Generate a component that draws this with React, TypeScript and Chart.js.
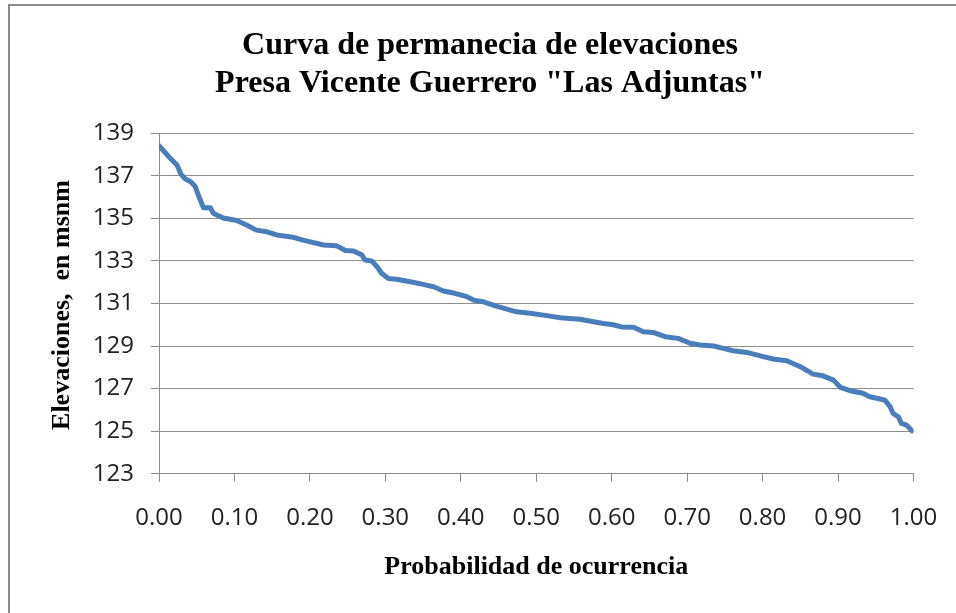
import React, { useEffect, useRef } from "react";
import { Chart, registerables } from "chart.js";

Chart.register(...registerables);

const TITLE_LINES = ["Curva de permanecia de elevaciones", 'Presa Vicente Guerrero "Las Adjuntas"'];
const Y_TITLE = "Elevaciones,  en msnm";
const X_TITLE = "Probabilidad de ocurrencia";

const probability = [
  0.0, 0.013, 0.024, 0.029, 0.035, 0.042, 0.048, 0.052, 0.059, 0.068, 0.072, 0.085, 0.103, 0.116,
  0.129, 0.143, 0.156, 0.178, 0.191, 0.218, 0.235, 0.247, 0.258, 0.269, 0.273, 0.282, 0.289, 0.295,
  0.304, 0.315, 0.333, 0.35, 0.364, 0.377, 0.392, 0.408, 0.417, 0.43, 0.447, 0.461, 0.474, 0.492,
  0.514, 0.532, 0.558, 0.576, 0.589, 0.602, 0.613, 0.629, 0.642, 0.655, 0.671, 0.688, 0.704, 0.717,
  0.735, 0.748, 0.761, 0.779, 0.797, 0.814, 0.832, 0.85, 0.867, 0.88, 0.894, 0.903, 0.916, 0.933,
  0.942, 0.956, 0.962, 0.969, 0.973, 0.98, 0.984, 0.991, 0.998,
];

const elevation = [
  138.42, 137.9, 137.5, 137.08, 136.85, 136.72, 136.5, 136.1, 135.5, 135.5, 135.24, 135.02, 134.9,
  134.69, 134.45, 134.37, 134.22, 134.11, 133.98, 133.75, 133.72, 133.49, 133.47, 133.28, 133.04,
  133.0, 132.73, 132.42, 132.18, 132.14, 132.02, 131.9, 131.79, 131.59, 131.48, 131.32, 131.16,
  131.08, 130.88, 130.74, 130.61, 130.54, 130.43, 130.33, 130.26, 130.14, 130.06, 130.0, 129.9,
  129.88, 129.67, 129.64, 129.44, 129.36, 129.13, 129.05, 129.0, 128.89, 128.78, 128.7, 128.54,
  128.39, 128.31, 128.03, 127.68, 127.6, 127.4, 127.06, 126.9, 126.78, 126.62, 126.51, 126.46,
  126.15, 125.83, 125.67, 125.36, 125.28, 125.02,
];

const Y_MIN = 123;
const Y_MAX = 139;
const Y_STEP = 2;
const X_MIN = 0;
const X_MAX = 1;
const X_STEP = 0.1;

const SERIF = '"Liberation Serif", "Times New Roman", serif';
const SANS = '"Open Sans", "Noto Sans", sans-serif';

const textPlugin = {
  id: "textPlugin",
  afterDraw(chart: any) {
    const ctx = chart.ctx;
    ctx.save();
    // outer border
    ctx.strokeStyle = "#8c8c8c";
    ctx.lineWidth = 2;
    ctx.beginPath();
    ctx.moveTo(9, 620);
    ctx.lineTo(9, 5);
    ctx.lineTo(960, 5);
    ctx.stroke();

    ctx.fillStyle = "#000";
    ctx.textAlign = "center";
    ctx.textBaseline = "middle";
    ctx.font = `bold 32px ${SERIF}`;
    ctx.fillText(TITLE_LINES[0], 490, 46);
    ctx.fillText(TITLE_LINES[1], 490, 84);

    ctx.font = `bold 26px ${SERIF}`;
    const ca = chart.chartArea;
    ctx.fillText(X_TITLE, (ca.left + ca.right) / 2, 567);

    ctx.font = `bold 26px ${SERIF}`;
    ctx.translate(62, 305);
    ctx.rotate(-Math.PI / 2);
    ctx.fillText(Y_TITLE, 0, 0);
    ctx.restore();
  },
};

export default function App() {
  const ref = useRef<HTMLCanvasElement | null>(null);
  useEffect(() => {
    document.body.style.margin = "0";
    const points = probability.map((p, i) => ({ x: p, y: elevation[i] }));
    const chart = new Chart(ref.current as HTMLCanvasElement, {
      type: "line",
      data: {
        datasets: [
          {
            data: points,
            borderColor: "#4A7EBB",
            borderWidth: 5,
            pointRadius: 0,
            tension: 0,
            borderJoinStyle: "round",
            borderCapStyle: "round",
          },
        ],
      },
      options: {
        animation: false,
        responsive: false,
        maintainAspectRatio: false,
        layout: { padding: { top: 133.3, right: 42.5, left: 0, bottom: 0 } },
        plugins: { legend: { display: false }, tooltip: { enabled: false }, title: { display: false } },
        scales: {
          x: {
            type: "linear",
            min: X_MIN,
            max: X_MAX,
            afterFit: (s: any) => {
              s.height = 613 - 473.7;
              s.paddingLeft = 0;
              s.paddingRight = 0;
            },
            ticks: {
              stepSize: X_STEP,
              callback: (v: any) => Number(v).toFixed(2),
              font: { family: SANS, size: 24 },
              color: "#222",
              padding: 22,
              maxRotation: 0,
              autoSkip: false,
            },
            grid: { drawOnChartArea: false, tickLength: 8, color: "#8c8c8c", lineWidth: 1 },
            border: { color: "#8c8c8c", width: 1 },
          },
          y: {
            min: Y_MIN,
            max: Y_MAX,
            afterFit: (s: any) => {
              s.width = 159;
              s.paddingTop = 0;
              s.paddingBottom = 0;
            },
            ticks: {
              stepSize: Y_STEP,
              font: { family: SANS, size: 24 },
              color: "#222",
              padding: 17,
            },
            grid: { color: "#8c8c8c", lineWidth: 1, tickLength: 8 },
            border: { color: "#8c8c8c", width: 1 },
          },
        },
      },
      plugins: [textPlugin],
    });
    return () => chart.destroy();
  }, []);
  return (
    <div style={{ position: "absolute", left: 0, top: 0, width: 956, height: 613 }}>
      <canvas ref={ref} width={956} height={613} style={{ width: 956, height: 613 }} />
    </div>
  );
}
